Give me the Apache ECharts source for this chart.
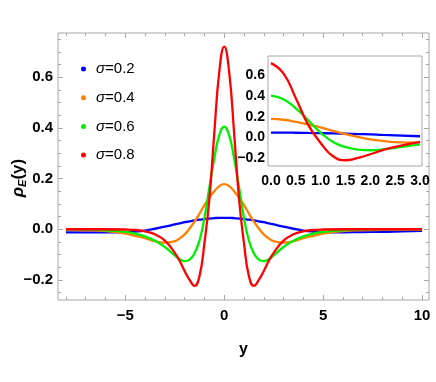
<!DOCTYPE html>
<html>
<head>
<meta charset="utf-8">
<script src="https://cdn.jsdelivr.net/npm/echarts@6/dist/echarts.min.js"></script>
<style>
  html, body { margin: 0; padding: 0; background: #fff; }
  #chart { width: 436px; height: 382px; }
</style>
</head>
<body>
<div id="chart"></div>
<script>
// values
const xs = [-8, -7, -6, -5, -4.5, -4, -3.5, -3, -2.5, -2.25, -2, -1.75, -1.5, -1.25, -1, -0.75, -0.5, -0.25,
  0, 0.25, 0.5, 0.75, 1, 1.25, 1.5, 1.75, 2, 2.25, 2.5, 3, 3.5, 4, 4.5, 5, 6, 7, 8, 9, 10]

const blue = [-0.012, -0.012, -0.012, -0.011, -0.009, -0.005, 0.002, 0.01, 0.019, 0.023, 0.028, 0.031, 0.035, 0.038, 0.04, 0.042, 0.044, 0.045,
  0.045, 0.045, 0.044, 0.042, 0.04, 0.038, 0.035, 0.031, 0.028, 0.023, 0.019, 0.01, 0.002, -0.005, -0.009, -0.011, -0.012, -0.011, -0.01, -0.008, -0.006]

const orange = [-0.002, -0.004, -0.007, -0.017, -0.026, -0.035, -0.047, -0.053, -0.047, -0.036, -0.02, 0.003, 0.03, 0.062, 0.095, 0.125, 0.15, 0.17,
  0.178, 0.17, 0.15, 0.125, 0.095, 0.062, 0.03, 0.003, -0.02, -0.036, -0.047, -0.053, -0.047, -0.035, -0.026, -0.017, -0.007, -0.004, -0.002, -0.001, 0]

const green = [0, -0.001, -0.004, -0.01, -0.017, -0.028, -0.045, -0.07, -0.103, -0.118, -0.126, -0.12, -0.095, -0.045, 0.045, 0.165, 0.28, 0.37,
  0.405, 0.37, 0.28, 0.165, 0.045, -0.045, -0.095, -0.12, -0.126, -0.118, -0.103, -0.07, -0.045, -0.028, -0.017, -0.01, -0.004, -0.001, 0, 0, 0]

const red = [0, 0, 0, -0.001, -0.003, -0.008, -0.02, -0.045, -0.093, -0.125, -0.165, -0.2, -0.223, -0.185, -0.055, 0.12, 0.38, 0.62,
  0.72, 0.62, 0.38, 0.12, -0.055, -0.185, -0.223, -0.2, -0.165, -0.125, -0.093, -0.045, -0.02, -0.008, -0.003, -0.001, 0, 0, 0, 0, 0]

const names = ['σ=0.2', 'σ=0.4', 'σ=0.6', 'σ=0.8']
const colors = ['#0000ff', '#ff8000', '#00ee00', '#ff0000']

const mainXLabels = [-5, 0, 5, 10]
const mainYLabels = [-0.2, 0, 0.2, 0.4, 0.6]
const insetXLabels = [0, 0.5, 1, 1.5, 2, 2.5, 3]
const insetYLabels = [-0.2, 0, 0.2, 0.4, 0.6]

const frameColor = '#a8a8a8'
const labelFont = {
  fontFamily: "'Liberation Sans Narrow', 'Liberation Sans', sans-serif",
  fontWeight: 'bold',
  color: '#000',
}

const range = (a, b, step) => {
  const out = []
  for (let v = a; v <= b + 1e-9; v += step) out.push(Math.round(v * 1000) / 1000)
  return out
}

const fmt1 = (v) => (v < 0 ? '\u2212' : '') + Math.abs(v).toFixed(1)
const fmt0 = (v) => (v < 0 ? '\u2212' : '') + Math.abs(v)

// one decorative axis: ticks (and maybe labels) at given values
function tickAxis(gridIndex, position, min, max, values, len, label) {
  return {
    type: 'value',
    gridIndex,
    position,
    min,
    max,
    axisLine: { show: false, onZero: false },
    splitLine: { show: false },
    axisTick: {
      show: true,
      inside: true,
      length: len,
      customValues: values,
      lineStyle: { color: frameColor, width: 1 },
    },
    axisLabel: label ? Object.assign({ show: true, customValues: values }, labelFont, label) : { show: false },
  }
}

const mx = [-8.4, 10.35]
const my = [-0.279, 0.774]
const ix = [-0.06, 3.04]
const iy = [-0.279, 0.789]

const xAxes = [
  Object.assign(tickAxis(0, 'bottom', mx[0], mx[1], mainXLabels, 5, { fontSize: 15, margin: 8, formatter: fmt0 }), {
    name: 'y',
    nameLocation: 'middle',
    nameGap: 42,
    nameTextStyle: { fontSize: 16, fontWeight: 'bold', color: '#000', fontFamily: "'Liberation Sans', sans-serif" },
  }),
  tickAxis(0, 'bottom', mx[0], mx[1], range(-8, 10, 1), 3),
  tickAxis(0, 'top', mx[0], mx[1], mainXLabels, 5),
  tickAxis(0, 'top', mx[0], mx[1], range(-8, 10, 1), 3),
  tickAxis(1, 'bottom', ix[0], ix[1], insetXLabels, 4, { fontSize: 14, margin: 8, formatter: fmt1 }),
  tickAxis(1, 'bottom', ix[0], ix[1], range(0, 3, 0.1), 2),
  tickAxis(1, 'top', ix[0], ix[1], insetXLabels, 4),
  tickAxis(1, 'top', ix[0], ix[1], range(0, 3, 0.1), 2),
]

const yAxes = [
  tickAxis(0, 'left', my[0], my[1], mainYLabels, 5, { fontSize: 15, margin: 5, formatter: fmt1 }),
  tickAxis(0, 'left', my[0], my[1], range(-0.25, 0.75, 0.05), 3),
  tickAxis(0, 'right', my[0], my[1], mainYLabels, 5),
  tickAxis(0, 'right', my[0], my[1], range(-0.25, 0.75, 0.05), 3),
  tickAxis(1, 'left', iy[0], iy[1], insetYLabels, 4, { fontSize: 14, margin: 3, formatter: fmt1 }),
  tickAxis(1, 'left', iy[0], iy[1], range(-0.2, 0.7, 0.1), 2),
  tickAxis(1, 'right', iy[0], iy[1], insetYLabels, 4),
  tickAxis(1, 'right', iy[0], iy[1], range(-0.2, 0.7, 0.1), 2),
]

const allSeries = [blue, orange, green, red]

const mainSeries = allSeries.map((vals, i) => ({
  name: names[i],
  type: 'line',
  xAxisIndex: 0,
  yAxisIndex: 0,
  smooth: true,
  showSymbol: false,
  data: xs.map((x, j) => [x, vals[j]]),
  itemStyle: { color: colors[i] },
  lineStyle: { width: 2.3, color: colors[i] },
  z: 3,
}))

const insetSeries = allSeries.map((vals, i) => ({
  name: names[i],
  type: 'line',
  xAxisIndex: 4,
  yAxisIndex: 4,
  smooth: true,
  showSymbol: false,
  data: xs.map((x, j) => [x, vals[j]]).filter((p) => p[0] >= 0 && p[0] <= 3),
  itemStyle: { color: colors[i] },
  lineStyle: { width: 2.3, color: colors[i] },
  z: 4,
}))

const chart = echarts.init(document.getElementById('chart'))

chart.setOption({
  animation: false,
  backgroundColor: '#fff',
  grid: [
    { left: 58, top: 33, right: 7, bottom: 82, show: true, borderColor: frameColor, borderWidth: 1, backgroundColor: '#fff' },
    { left: 268, top: 56, width: 154, height: 110, show: true, borderColor: frameColor, borderWidth: 1, backgroundColor: '#fff', z: 2 },
  ],
  legend: {
    data: names,
    orient: 'vertical',
    left: 81,
    top: 60,
    padding: 0,
    icon: 'circle',
    itemWidth: 5,
    itemHeight: 5,
    itemGap: 10.7,
    formatter: (name) => '{i|σ}' + name.slice(1),
    textStyle: {
      fontSize: 15,
      lineHeight: 18,
      color: '#000',
      fontFamily: "'Liberation Sans', sans-serif",
      padding: [0, 0, 0, 5],
      rich: {
        i: { fontSize: 15, lineHeight: 18, fontStyle: 'italic', color: '#000', fontFamily: "'Liberation Sans', sans-serif" },
      },
    },
  },
  graphic: [
    {
      type: 'text',
      x: 18,
      y: 178,
      rotation: Math.PI / 2,
      style: {
        text: '{r|ρ}{s|E}{p|(y)}',
        textAlign: 'center',
        textVerticalAlign: 'middle',
        rich: {
          r: { fontSize: 17, lineHeight: 20, fontStyle: 'italic', fontWeight: 'bold', fontFamily: "'Liberation Sans', sans-serif", fill: '#000' },
          s: { fontSize: 11, lineHeight: 20, fontStyle: 'italic', fontWeight: 'bold', verticalAlign: 'bottom', fontFamily: "'Liberation Sans', sans-serif", fill: '#000' },
          p: { fontSize: 17, lineHeight: 20, fontWeight: 'bold', fontFamily: "'Liberation Sans', sans-serif", fill: '#000' },
        },
      },
    },
  ],
  xAxis: xAxes,
  yAxis: yAxes,
  series: mainSeries.concat(insetSeries),
})

window.addEventListener('resize', () => chart.resize())
</script>
</body>
</html>
